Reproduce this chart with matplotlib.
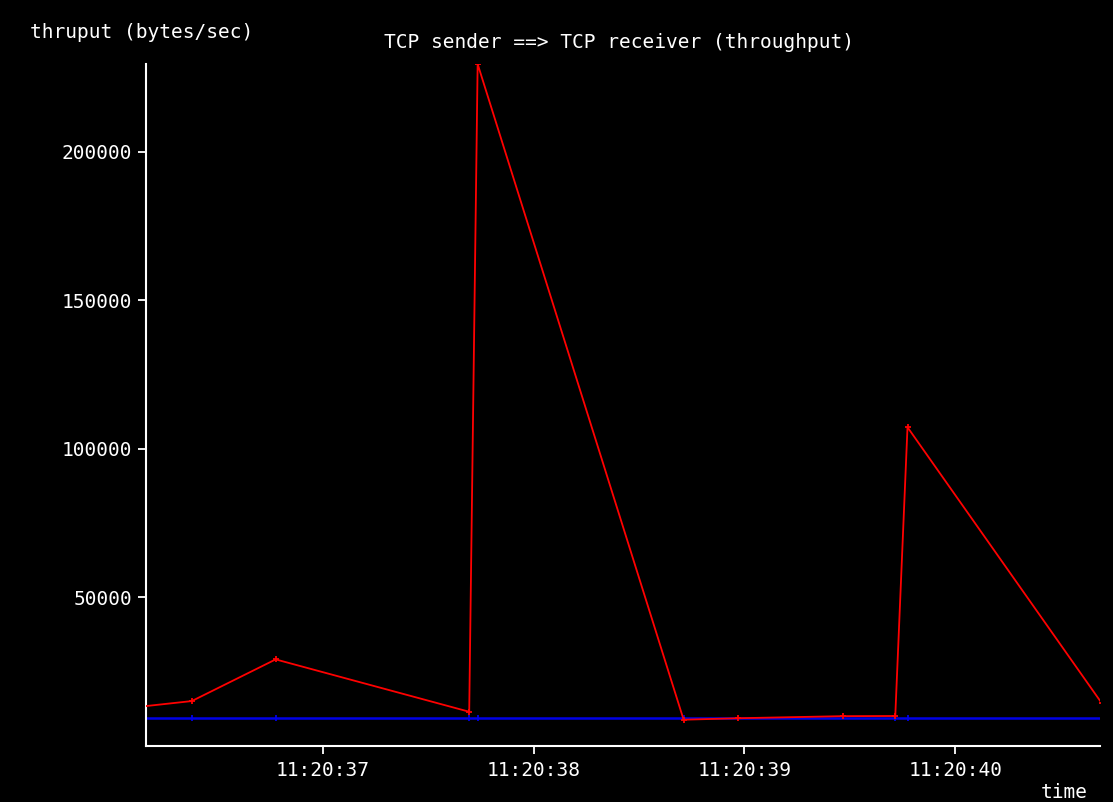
import matplotlib
matplotlib.use("Agg")
import matplotlib.pyplot as plt
from matplotlib.ticker import FuncFormatter

# seconds after 11:20:00
red_t = [36.162, 36.379, 36.777, 37.695, 37.735, 38.712, 38.972, 39.466, 39.716, 39.774, 40.695]
red_v = [13300, 14980, 29020, 11380, 229600, 8700, 9200, 9900, 9950, 107240, 14310]

blue_t = [36.162, 36.379, 36.777, 37.695, 37.735, 38.712, 39.716, 39.774, 40.695]
blue_v = [9360, 9360, 9360, 9360, 9360, 9360, 9360, 9360, 9360]

yticks = [50000, 100000, 150000, 200000]
xticks = [37, 38, 39, 40]

title = "TCP sender ==> TCP receiver (throughput)"
ylabel = "thruput (bytes/sec)"
xlabel = "time"

mono = "DejaVu Sans Mono"
fs = 14

fig = plt.figure(figsize=(11.13, 8.02), dpi=100, facecolor="black")
ax = fig.add_axes([0.1312, 0.0704, 0.8571, 0.8498], facecolor="black")

ax.plot(blue_t, blue_v, color="#0000e6", lw=1.8, marker="|", ms=5, mew=1.3, zorder=2)
ax.plot(red_t[1:], red_v[1:], color="none", marker="+", ms=5, mew=1.3, mec="red", zorder=3)
ax.plot(red_t, red_v, color="red", lw=1.3, zorder=3)

ax.set_xlim(36.162, 40.687)
ax.set_ylim(0, 229600)

ax.set_xticks(xticks)
ax.set_yticks(yticks)
ax.xaxis.set_major_formatter(FuncFormatter(lambda v, p: "11:20:%02d" % int(round(v))))
ax.tick_params(colors="white", direction="out", length=6, width=1.3, labelsize=fs)
ax.tick_params(axis="x", pad=5)
ax.tick_params(axis="y", pad=4)
for lab in ax.get_xticklabels() + ax.get_yticklabels():
    lab.set_family(mono)

for s in ["top", "right"]:
    ax.spines[s].set_visible(False)
for s in ["left", "bottom"]:
    ax.spines[s].set_color("white")
    ax.spines[s].set_linewidth(1.5)

fig.text(30 / 1113, 1 - 33 / 802, ylabel, color="white", family=mono, fontsize=fs,
         ha="left", va="center")
fig.text(619 / 1113, 1 - 43 / 802, title, color="white", family=mono, fontsize=fs,
         ha="center", va="center")
fig.text(1088 / 1113, 1 - 793 / 802, xlabel, color="white", family=mono, fontsize=fs,
         ha="right", va="center")

fig.savefig("out.png", dpi=100, facecolor="black")
